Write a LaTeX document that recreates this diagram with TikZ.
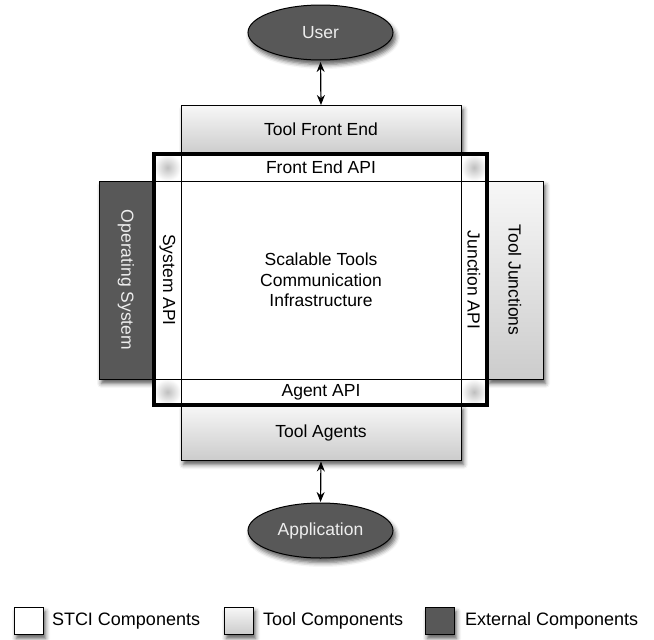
\documentclass[tikz,border=0pt]{standalone}
\usepackage{fontspec}
\setmainfont{Liberation Sans}
\usetikzlibrary{arrows.meta,shapes.geometric,shadows.blur}
\definecolor{darkfill}{HTML}{585858}
\definecolor{lighttext}{HTML}{EEEEEE}
\begin{document}
\begin{tikzpicture}[x=1pt,y=-1pt,
  every node/.style={font=\fontsize{17.5}{20.5}\selectfont, inner sep=0pt, outer sep=0pt},
  softshadow/.style={blur shadow={shadow xshift=2.5pt,shadow yshift=-4.5pt,shadow blur radius=4.5pt,shadow opacity=65}},
  apibox/.style={draw=black, line width=1pt, fill=white},
  toolbox/.style={draw=black, line width=1pt, top color=gray!6, bottom color=gray!40, softshadow},
  extbox/.style={draw=black, line width=1pt, fill=darkfill, text=lighttext, softshadow},
  extell/.style={ellipse, draw=black, line width=1pt, fill=darkfill, text=lighttext, softshadow},
  frame/.style={draw=black, line width=3.6pt},
  biarrow/.style={{Stealth[length=10pt,width=8pt]}-{Stealth[length=10pt,width=8pt]}, line width=1.2pt},
  legendtext/.style={anchor=west, font=\fontsize{18}{21}\selectfont},
  cornerblur/.style={inner color=gray!50, outer color=white}
]
\useasboundingbox (0,0) rectangle (654,640);

% external ellipses
\node[extell, minimum width=145pt, minimum height=55pt] (user) at (320.5,32.5) {User};
\node[extell, minimum width=145pt, minimum height=55pt] (app) at (320.5,530.5) {Application};

% tool components
\node[toolbox, minimum width=280pt, minimum height=49pt] (tfe) at (321,129.5) {Tool Front End};
\node[toolbox, minimum width=280pt, minimum height=55pt] (tag) at (321,432.5) {Tool Agents};
\node[toolbox, minimum width=56pt, minimum height=198pt] (tj) at (515,280) {\rotatebox{-90}{Tool Junctions}};
\node[extbox, minimum width=54pt, minimum height=198pt] (os) at (126,280) {\rotatebox{-90}{Operating System}};

% corner blurs
\shade[cornerblur] (154,154) rectangle (181,181);
\shade[cornerblur] (461,154) rectangle (487,181);
\shade[cornerblur] (154,379) rectangle (181,405);
\shade[cornerblur] (461,379) rectangle (487,405);

% STCI components
\node[apibox, minimum width=280pt, minimum height=28pt] (feapi) at (321,167) {Front End API};
\node[apibox, minimum width=280pt, minimum height=198pt, align=center] (stci) at (321,280) {Scalable Tools\\Communication\\Infrastructure};
\node[apibox, minimum width=280pt, minimum height=26pt] (agapi) at (321,392) {Agent API};
\node[apibox, minimum width=27pt, minimum height=198pt] (sysapi) at (167.5,280) {\rotatebox{-90}{System API}};
\node[apibox, minimum width=26pt, minimum height=198pt] (jnapi) at (474,280) {\rotatebox{-90}{Junction API}};

% thick frame
\node[frame, minimum width=333.5pt, minimum height=251pt] (stciframe) at (320.5,279.5) {};

% arrows
\draw[biarrow, shorten <=2pt] (user.south) -- (tfe.north);
\draw[biarrow, shorten <=1.5pt, shorten >=1pt] (tag.south) -- (app.north);

% legend
\node[apibox, softshadow, minimum width=29pt, minimum height=27pt] (lg1) at (28.5,620.5) {};
\node[legendtext] (lt1) at (52,621) {STCI Components};
\node[toolbox, minimum width=29pt, minimum height=27pt] (lg2) at (238.5,620.5) {};
\node[legendtext] (lt2) at (263,621) {Tool Components};
\node[extbox, minimum width=29pt, minimum height=27pt] (lg3) at (439.5,620.5) {};
\node[legendtext] (lt3) at (465,621) {External Components};
\end{tikzpicture}
\end{document}
